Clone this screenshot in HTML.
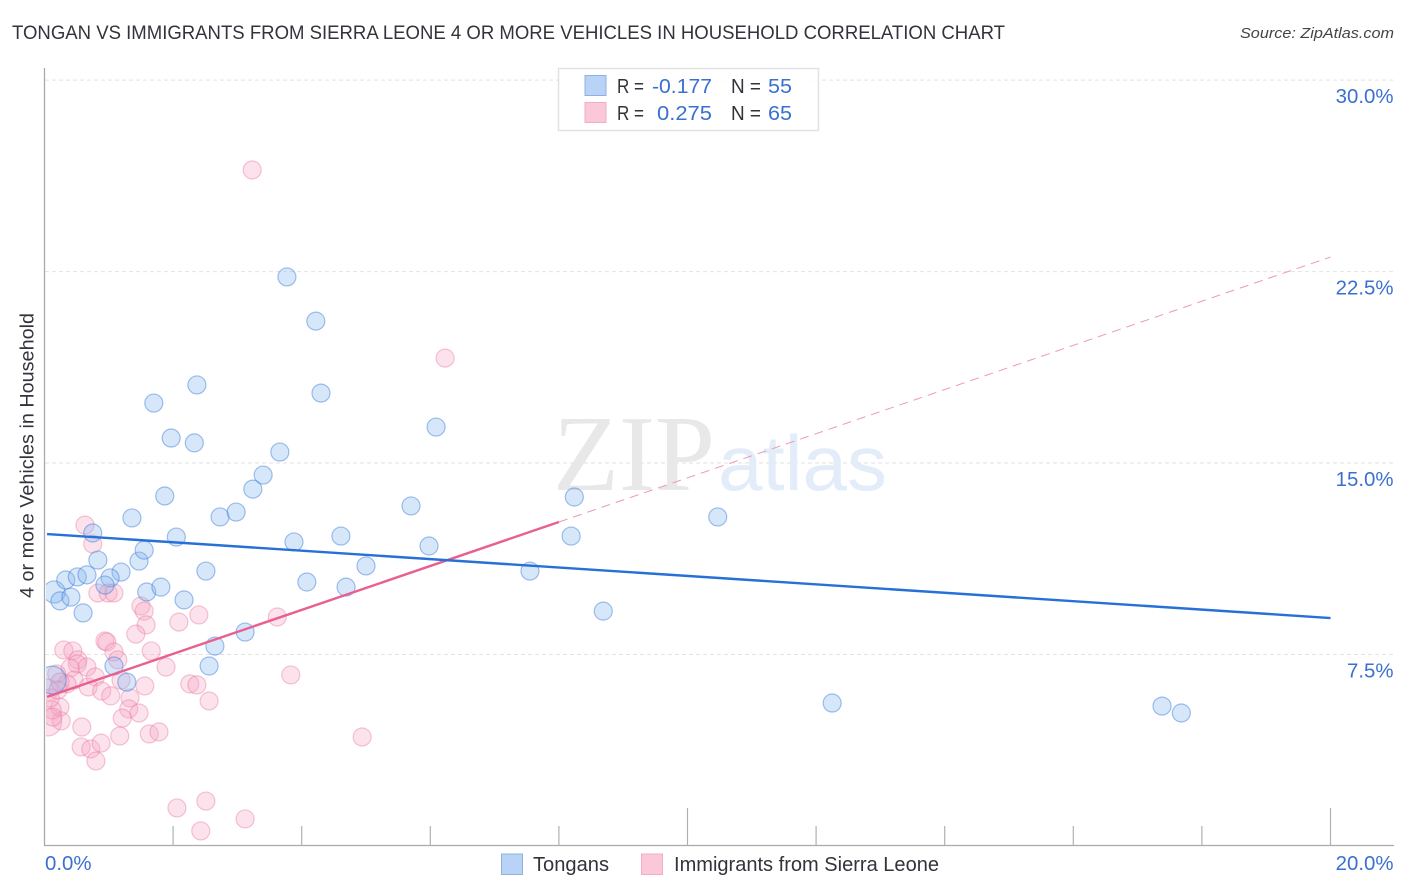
<!DOCTYPE html>
<html lang="en">
<head>
<meta charset="utf-8">
<title>Tongan vs Immigrants from Sierra Leone correlation chart</title>
<style>
html,body{margin:0;padding:0;background:#fff;width:1406px;height:892px;overflow:hidden}
svg{display:block;font-family:"Liberation Sans",sans-serif}
</style>
</head>
<body>
<svg id="chart" width="1406" height="892" viewBox="0 0 1406 892" xmlns="http://www.w3.org/2000/svg">
  <defs>
    <clipPath id="plot-clip"><rect x="46" y="68" width="1348" height="777"/></clipPath>
  </defs>
  <rect x="0" y="0" width="1406" height="892" fill="#ffffff"/>
  <text x="12" y="39" font-size="19" fill="#33333b" textLength="993" lengthAdjust="spacingAndGlyphs">TONGAN VS IMMIGRANTS FROM SIERRA LEONE 4 OR MORE VEHICLES IN HOUSEHOLD CORRELATION CHART</text>
  <text x="1394" y="38" font-size="15" font-style="italic" fill="#444" text-anchor="end" textLength="154" lengthAdjust="spacingAndGlyphs">Source: ZipAtlas.com</text>
  <text transform="translate(33.5,598) rotate(-90)" font-size="19" fill="#33333b" textLength="285" lengthAdjust="spacingAndGlyphs">4 or more Vehicles in Household</text>

  <g id="grid"></g>
  <g>
    <text x="553" y="490" font-family="'Liberation Serif',serif" font-size="108" fill="#e8e8e8" textLength="162" lengthAdjust="spacingAndGlyphs">ZIP</text>
    <text x="718" y="490" font-size="78" fill="#e3ecf9" textLength="169" lengthAdjust="spacingAndGlyphs">atlas</text>
  </g>
  <g id="marks-pink" clip-path="url(#plot-clip)"></g>
  <g id="marks-blue" clip-path="url(#plot-clip)"></g>
  <g id="trends"></g>
  <g id="axes"></g>

  <g>
    <rect x="558.5" y="68.5" width="260" height="62" fill="#ffffff" fill-opacity="0.85" stroke="#e2e2e2" stroke-width="1.5"/>
    <rect x="585" y="75.5" width="21" height="20" fill="#b8d3f6" stroke="#8db1e4" stroke-width="1"/>
    <rect x="585" y="102.5" width="21" height="20" fill="#fbc8da" stroke="#f1adc4" stroke-width="1"/>
    <g font-size="20">
      <text x="617" y="93" fill="#33333b" textLength="27" lengthAdjust="spacingAndGlyphs">R =</text>
      <text x="652" y="93" fill="#3b70d0" textLength="60" lengthAdjust="spacingAndGlyphs">-0.177</text>
      <text x="731" y="93" fill="#33333b" textLength="30" lengthAdjust="spacingAndGlyphs">N =</text>
      <text x="768" y="93" fill="#3b70d0" textLength="24" lengthAdjust="spacingAndGlyphs">55</text>
      <text x="617" y="120" fill="#33333b" textLength="27" lengthAdjust="spacingAndGlyphs">R =</text>
      <text x="657" y="120" fill="#3b70d0" textLength="55" lengthAdjust="spacingAndGlyphs">0.275</text>
      <text x="731" y="120" fill="#33333b" textLength="30" lengthAdjust="spacingAndGlyphs">N =</text>
      <text x="768" y="120" fill="#3b70d0" textLength="24" lengthAdjust="spacingAndGlyphs">65</text>
    </g>
  </g>

  <g>
    <rect x="501.5" y="854" width="21" height="20.5" fill="#b8d3f6" stroke="#8db1e4" stroke-width="1"/>
    <text x="533" y="871" font-size="20" fill="#33333b" textLength="76" lengthAdjust="spacingAndGlyphs">Tongans</text>
    <rect x="641.5" y="854" width="21" height="20.5" fill="#fbc8da" stroke="#f1adc4" stroke-width="1"/>
    <text x="674" y="871" font-size="20" fill="#33333b" textLength="265" lengthAdjust="spacingAndGlyphs">Immigrants from Sierra Leone</text>
  </g>
</svg>
<script>
const xTicks = [0, 2, 4, 6, 8, 10, 12, 14, 16, 18, 20];
const xMajorTicks = [0, 10, 20];
const xLabelTicks = [0, 20];
const yTicks = [7.5, 15, 22.5, 30];

const blueX = [0.12,0.15,0.24,0.41,0.33,0.51,0.66,0.60,0.83,0.75,1.19,1.02,0.94,1.47,1.55,1.59,1.81,1.36,2.05,1.87,2.17,2.51,2.73,2.98,3.24,3.40,3.66,2.33,1.97,1.70,2.37,4.30,4.22,3.77,6.09,5.70,5.98,4.61,3.88,4.08,4.69,5.00,3.12,2.65,2.56,1.08,1.28,8.24,8.19,7.55,8.69,10.47,12.25,17.38,17.68];
const blueY = [6.50,9.95,9.60,9.75,10.42,10.54,10.62,9.13,11.20,12.26,10.73,10.50,10.22,11.16,11.59,9.95,10.14,12.85,12.10,13.71,9.64,10.77,12.89,13.08,13.98,14.53,15.43,15.79,15.98,17.35,18.06,17.74,20.56,22.29,16.41,13.32,11.75,12.14,11.91,10.34,10.14,10.97,8.38,7.83,7.05,7.05,6.42,13.67,12.14,10.77,9.20,12.89,5.60,5.48,5.21];
const blueWeight = [2.4, 1.5];

const pinkX = [0.05,0.04,0.63,0.75,0.83,0.99,1.08,1.50,1.55,1.58,1.42,2.09,2.40,3.62,0.94,0.97,1.08,1.14,1.66,1.89,0.30,0.44,0.52,0.51,0.66,0.40,0.19,0.79,0.46,0.35,0.24,0.68,0.89,1.03,1.19,1.56,1.33,1.31,1.47,1.21,2.26,2.37,2.56,3.83,0.58,1.17,1.63,1.78,0.57,0.72,0.88,0.80,2.06,2.51,2.43,3.12,0.26,0.24,0.12,0.13,0.09,3.23,6.23,4.94,0.21];
const pinkY = [4.86,6.11,12.57,11.83,9.91,9.91,9.91,9.40,9.20,8.66,8.30,8.77,9.05,8.97,8.03,7.99,7.60,7.29,7.64,7.01,7.68,7.64,7.29,7.13,7.01,6.97,6.74,6.62,6.50,6.35,6.42,6.23,6.07,5.88,6.50,6.27,5.80,5.37,5.21,5.01,6.35,6.31,5.68,6.70,4.66,4.31,4.39,4.47,3.88,3.80,4.03,3.33,1.49,1.76,0.59,1.06,4.90,5.44,5.33,5.05,5.80,26.48,19.11,4.27,6.11];
const pinkWeight = [2.4, 1.5];

const blueTrendX = [0.04, 20];
const blueTrendY = [12.22, 8.93];
const pinkSolidX = [0.04, 8.0];
const pinkSolidY = [5.84, 12.69];
const pinkDashedX = [8.0, 20];
const pinkDashedY = [12.69, 23.07];

const NS = 'http://www.w3.org/2000/svg';
function sx(v) { return 44.5 + v * 64.3; }
function sy(v) { return 846 - v * 25.53; }
function make(tag, attrs, parent) {
  const el = document.createElementNS(NS, tag);
  for (const k in attrs) el.setAttribute(k, attrs[k]);
  parent.appendChild(el);
  return el;
}

const grid = document.getElementById('grid');
yTicks.forEach(function (t) {
  const line = make('line', {x1: 45, x2: 1394, y1: sy(t), y2: sy(t), stroke: '#e2e2e2', 'stroke-width': 1, 'stroke-dasharray': '4 3'}, grid);
  
  
});

const pinkGroup = document.getElementById('marks-pink');
pinkX.forEach(function (x, i) {
  const c = make('circle', {cx: sx(x), cy: sy(pinkY[i]), r: 9 * Math.sqrt(pinkWeight[i] || 1), fill: 'rgba(246,165,195,0.32)', stroke: 'rgba(232,120,155,0.42)', 'stroke-width': 1.2}, pinkGroup);
  
  
});

const blueGroup = document.getElementById('marks-blue');
blueX.forEach(function (x, i) {
  const c = make('circle', {cx: sx(x), cy: sy(blueY[i]), r: 9 * Math.sqrt(blueWeight[i] || 1), fill: 'rgba(130,180,240,0.32)', stroke: 'rgba(60,125,215,0.48)', 'stroke-width': 1.2}, blueGroup);
  
  
});

const trends = document.getElementById('trends');
const pinkDash = make('line', {x1: sx(pinkDashedX[0]), y1: sy(pinkDashedY[0]), x2: sx(pinkDashedX[1]), y2: sy(pinkDashedY[1]), stroke: '#eb9ab5', 'stroke-width': 1, 'stroke-dasharray': '9 6'}, trends);


const pinkLine = make('line', {x1: sx(pinkSolidX[0]), y1: sy(pinkSolidY[0]), x2: sx(pinkSolidX[1]), y2: sy(pinkSolidY[1]), stroke: '#e8608f', 'stroke-width': 2.4}, trends);


const blueLine = make('line', {x1: sx(blueTrendX[0]), y1: sy(blueTrendY[0]), x2: sx(blueTrendX[1]), y2: sy(blueTrendY[1]), stroke: '#2770d8', 'stroke-width': 2.4}, trends);



const axes = document.getElementById('axes');
const yAxis = make('line', {x1: 44.5, x2: 44.5, y1: 68, y2: 846, stroke: '#aaaaaa', 'stroke-width': 1.3}, axes);


const xAxis = make('line', {x1: 44, x2: 1394, y1: 845.5, y2: 845.5, stroke: '#aaaaaa', 'stroke-width': 1.3}, axes);



xTicks.forEach(function (t) {
  if (t === 0) return;
  const top = xMajorTicks.indexOf(t) >= 0 ? 808 : 826;
  const tick = make('line', {x1: sx(t), x2: sx(t), y1: top, y2: 845, stroke: '#b0b0b0', 'stroke-width': 1.2}, axes);
  
  
});
xLabelTicks.forEach(function (t) {
  const label = make('text', {x: t === 0 ? 45 : 1393.5, y: 870, 'font-size': 20.4, fill: '#3b70d0', 'text-anchor': t === 0 ? 'start' : 'end'}, axes);
  
  
  label.textContent = t.toFixed(1) + '%';
});
yTicks.forEach(function (t) {
  const label = make('text', {x: 1393.5, y: sy(t) + 23, 'font-size': 20.4, fill: '#3b70d0', 'text-anchor': 'end'}, axes);
  
  
  label.textContent = t.toFixed(1) + '%';
});
</script>
</body>
</html>
